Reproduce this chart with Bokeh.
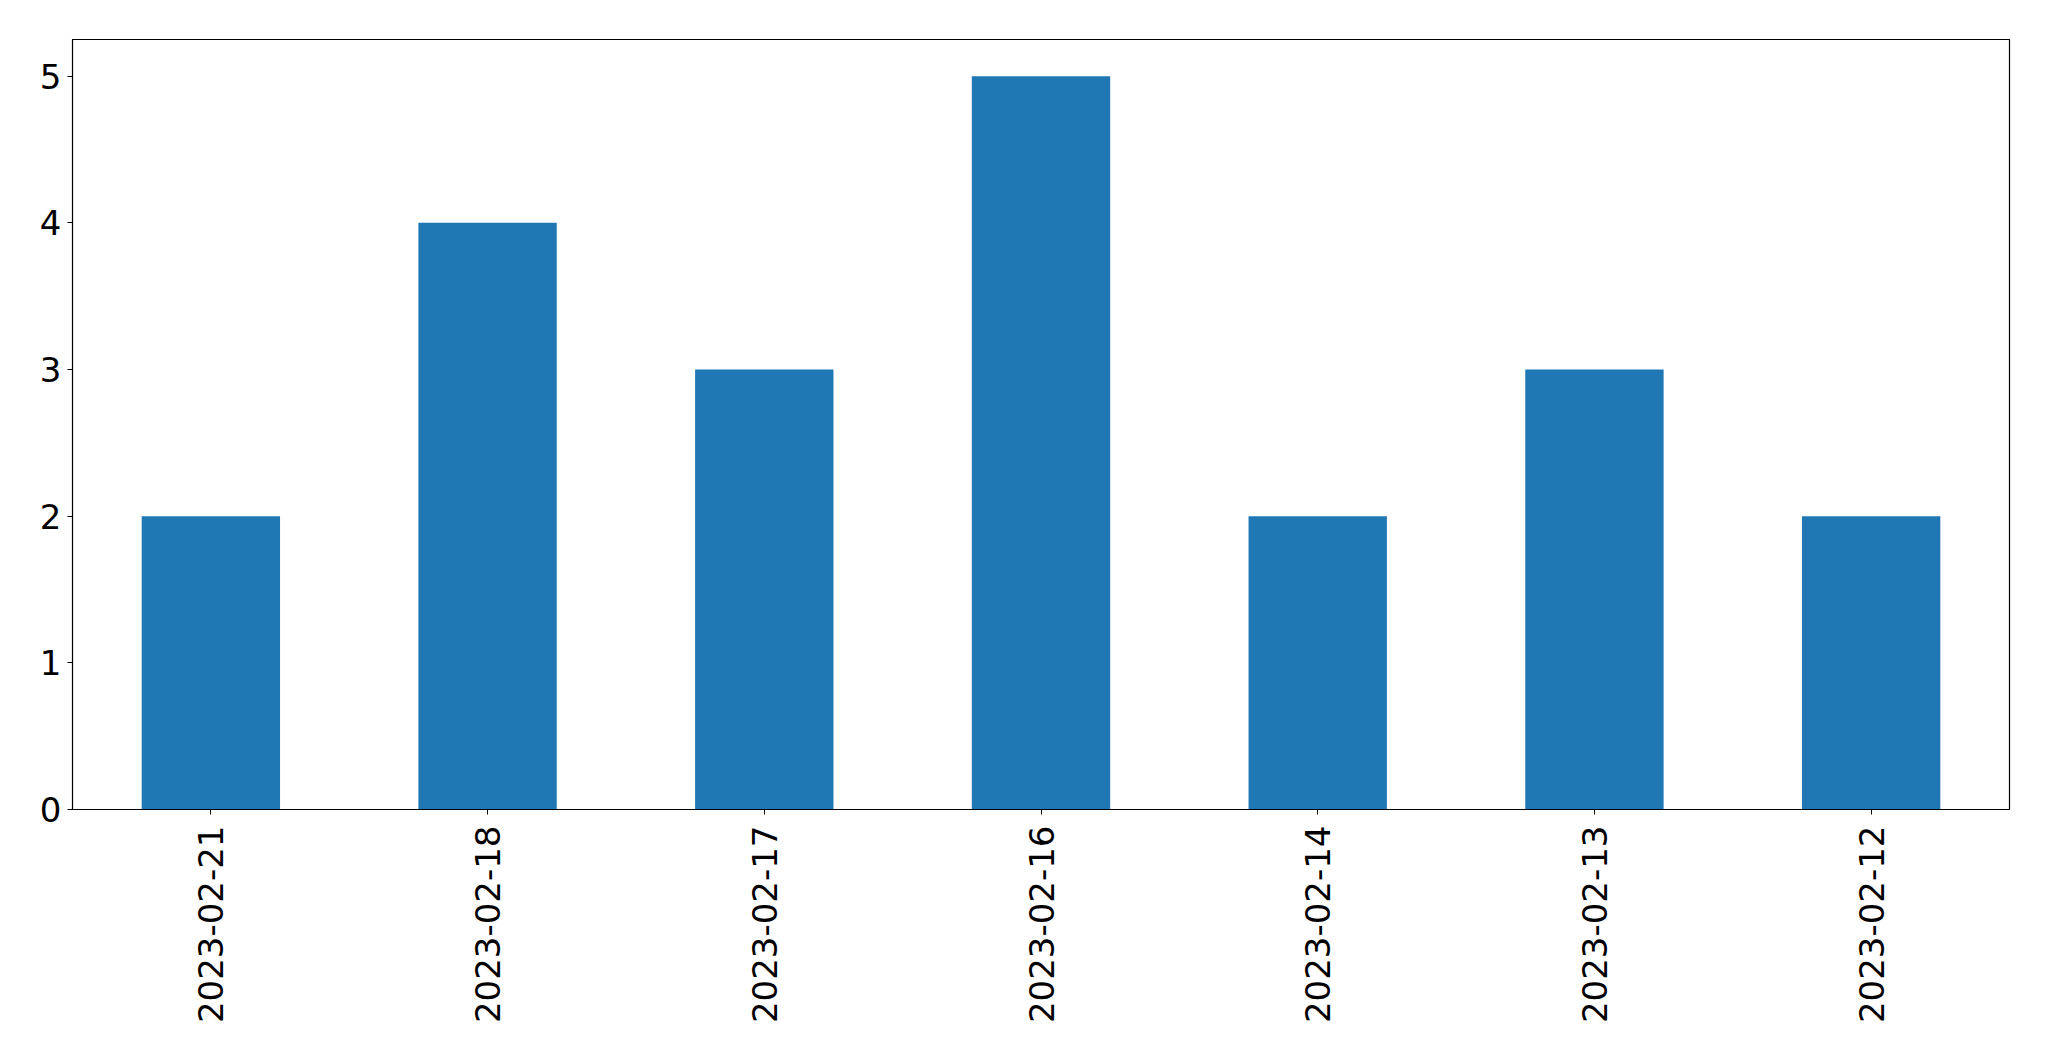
from bokeh.plotting import figure
from bokeh.models import FactorRange, Range1d, FixedTicker, ColumnDataSource
from bokeh.embed import file_html
from bokeh.resources import INLINE
import math

dates = ["2023-02-21", "2023-02-18", "2023-02-17", "2023-02-16", "2023-02-14", "2023-02-13", "2023-02-12"]
counts = [2, 4, 3, 5, 2, 3, 2]
y_ticks = [0, 1, 2, 3, 4, 5]

src = ColumnDataSource(dict(x=dates, top=counts))

p = figure(width=2041, height=1053, output_backend="svg", toolbar_location=None,
           x_range=FactorRange(factors=dates, range_padding=0),
           y_range=Range1d(0, 5.25),
           min_border_left=72, min_border_top=39, min_border_right=32, min_border_bottom=244)

p.vbar(x="x", top="top", width=0.5, bottom=0, source=src, color="#1f77b4", line_color=None)

p.xgrid.visible = False
p.ygrid.visible = False
p.outline_line_color = "black"
p.outline_line_width = 1.2
p.background_fill_color = "white"
p.border_fill_color = "white"

p.yaxis.ticker = FixedTicker(ticks=y_ticks)
for ax in (p.xaxis[0], p.yaxis[0]):
    ax.axis_line_color = "black"
    ax.major_tick_line_color = "black"
    ax.major_tick_in = 0
    ax.major_tick_out = 5
    ax.minor_tick_line_color = None
    ax.major_label_text_font = "DejaVu Sans"
    ax.major_label_text_font_size = "34px"
    ax.major_label_text_color = "black"
p.yaxis.major_label_standoff = 6
p.xaxis.major_label_standoff = 11
p.xaxis.major_label_orientation = math.pi / 2

open("out.html", "w").write(file_html(p, INLINE))
